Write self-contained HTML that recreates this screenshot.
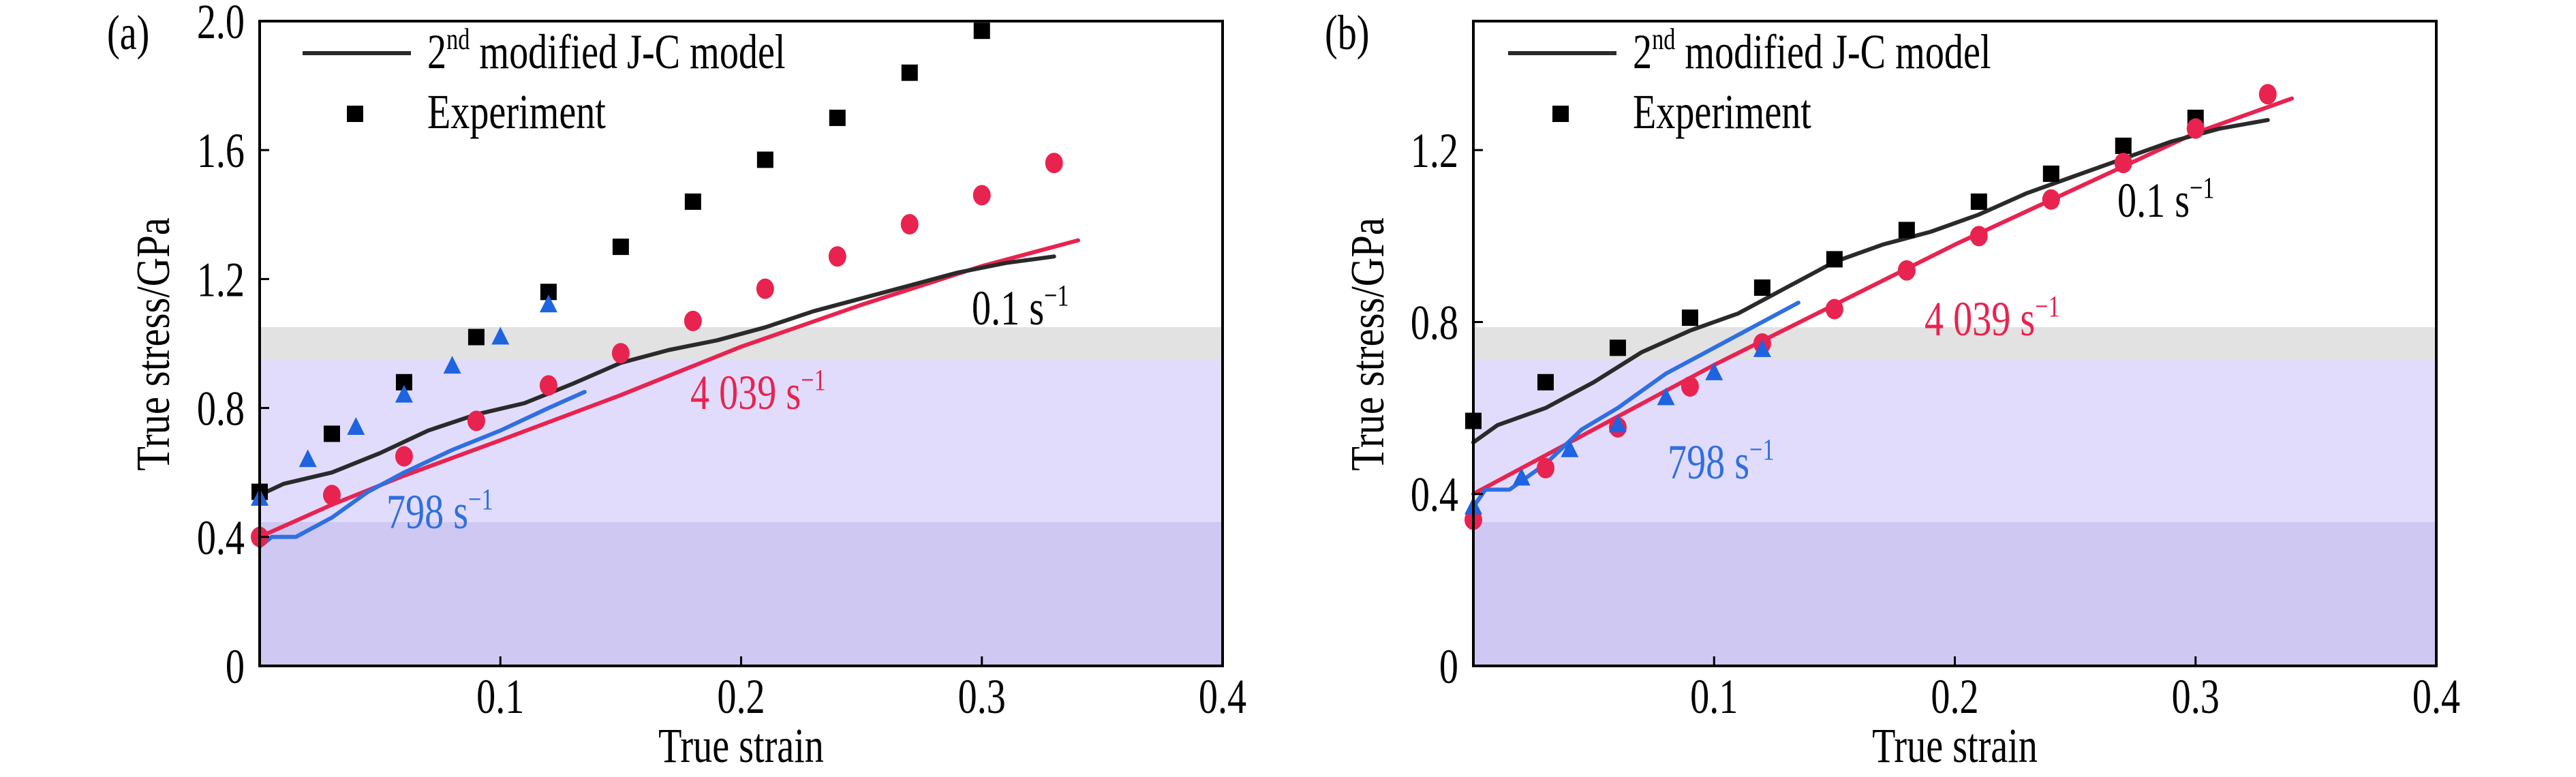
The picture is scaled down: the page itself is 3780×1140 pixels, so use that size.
<!DOCTYPE html>
<html><head><meta charset="utf-8"><style>
html,body{margin:0;padding:0;background:#fff;}
svg{display:block;font-family:"Liberation Serif",serif;}
</style></head><body>
<svg id="fig" width="3780" height="1140" viewBox="0 0 3780 1140"></svg>
<script>
// ---- data ----
const strainTicks=[0.1,0.2,0.3,0.4];
const tickLabelsX=["0.1","0.2","0.3","0.4"];
const stressTicksA=[0,0.4,0.8,1.2,1.6,2.0];
const tickLabelsYA=["0","0.4","0.8","1.2","1.6","2.0"];
const stressTicksB=[0,0.4,0.8,1.2];
const tickLabelsYB=["0","0.4","0.8","1.2"];

const expStrainSquaresA=[0,0.03,0.06,0.09,0.12,0.15,0.18,0.21,0.24,0.27,0.30];
const expStressSquaresA=[0.54,0.72,0.88,1.02,1.16,1.30,1.44,1.57,1.70,1.84,1.97];
const expStrainCirclesA=[0,0.03,0.06,0.09,0.12,0.15,0.18,0.21,0.24,0.27,0.30,0.33];
const expStressCirclesA=[0.40,0.53,0.65,0.76,0.87,0.97,1.07,1.17,1.27,1.37,1.46,1.56];
const expStrainTrianglesA=[0,0.02,0.04,0.06,0.08,0.10,0.12];
const expStressTrianglesA=[0.52,0.64,0.74,0.84,0.93,1.02,1.12];

const expStrainSquaresB=[0,0.03,0.06,0.09,0.12,0.15,0.18,0.21,0.24,0.27,0.30];
const expStressSquaresB=[0.57,0.66,0.74,0.81,0.88,0.946,1.014,1.08,1.145,1.21,1.275];
const expStrainCirclesB=[0,0.03,0.06,0.09,0.12,0.15,0.18,0.21,0.24,0.27,0.30,0.33];
const expStressCirclesB=[0.34,0.46,0.555,0.65,0.75,0.83,0.92,1.0,1.085,1.17,1.25,1.33];
const expStrainTrianglesB=[0,0.02,0.04,0.06,0.08,0.10,0.12];
const expStressTrianglesB=[0.37,0.437,0.503,0.561,0.624,0.682,0.736];

const modelStrainSlow=[0,0.01,0.03,0.05,0.07,0.09,0.11,0.13,0.15,0.17,0.19,0.21,0.23,0.25,0.27,0.29,0.31,0.33];
const modelStressSlowA=[0.53,0.565,0.60,0.66,0.73,0.78,0.815,0.875,0.94,0.98,1.01,1.05,1.10,1.14,1.18,1.22,1.25,1.27];
const modelStressSlowB=[0.52,0.56,0.60,0.66,0.73,0.78,0.82,0.88,0.94,0.98,1.01,1.05,1.10,1.14,1.18,1.22,1.25,1.27];
const modelStrainFast=[0,0.03,0.06,0.10,0.15,0.20,0.25,0.30,0.34];
const modelStressFastA=[0.40,0.50,0.59,0.70,0.84,0.99,1.12,1.24,1.32];
const modelStressFastB=[0.40,0.49,0.58,0.70,0.84,0.98,1.11,1.24,1.32];
const modelStrainMid=[0,0.005,0.015,0.03,0.045,0.06,0.08,0.10,0.12,0.135];
const modelStressMidA=[0.37,0.40,0.40,0.46,0.54,0.60,0.67,0.73,0.80,0.85];
const modelStressMidB=[0.37,0.41,0.41,0.47,0.55,0.60,0.68,0.74,0.80,0.845];

const NS="http://www.w3.org/2000/svg";
const svg=document.getElementById('fig');
const FS=72, SX=0.78;
function mk(tag,attrs,parent){const e=document.createElementNS(NS,tag);for(const k in attrs)e.setAttribute(k,attrs[k]);(parent||svg).appendChild(e);return e;}
function txt(parent,x,y,anchor,fill){
  return mk('text',{x:0,y:0,'font-size':FS,'text-anchor':anchor,fill:fill,transform:`translate(${x},${y}) scale(${SX},1)`},parent);
}
const SUP='<tspan font-size="44" dy="-28">';

function panel(p){
  const g=mk('g',{});
  
  
  const L=p.left,R=p.right,T=31,B=977;
  const sx=v=>L+(v-0)/0.4*(R-L);
  const sy=v=>B-v/p.ymax*(B-T);
  const bands=[[T,480,'#ffffff'],[480,527,'#e2e2e2'],[527,766,'#e2dcfc'],[766,B,'#cfc8f2']];
  bands.forEach(b=>{const r=mk('rect',{x:L,y:b[0],width:R-L,height:b[1]-b[0],fill:b[2]},g);
    
    });
  function line(xs,ys,color,name){
    const d=xs.map((x,i)=>(i?'L':'M')+sx(x).toFixed(1)+' '+sy(ys[i]).toFixed(1)).join(' ');
    const e=mk('path',{d:d,fill:'none',stroke:color,'stroke-width':6,'stroke-linejoin':'round','stroke-linecap':'round'},g);
    
    
  }
  line(modelStrainFast,p.fast,'#e8234f','model-line-4039');
  line(modelStrainSlow,p.slow,'#2a2a2a','model-line-0.1');
  line(modelStrainMid,p.mid,'#2f6fe0','model-line-798');
  p.sqx.forEach((x,i)=>{const e=mk('rect',{x:sx(x)-12,y:sy(p.sqy[i])-12,width:24,height:24,fill:'#000'},g);
    
    });
  p.cx.forEach((x,i)=>{const e=mk('ellipse',{cx:sx(x),cy:sy(p.cy[i]),rx:13,ry:15,fill:'#e8234f'},g);
    
    });
  p.tx.forEach((x,i)=>{const cx=sx(x),cy=sy(p.ty[i]);
    const e=mk('polygon',{points:`${cx-13},${cy+11} ${cx+13},${cy+11} ${cx},${cy-15}`,fill:'#1e63e0'},g);
    
    });
  const fr=mk('rect',{x:L,y:T,width:R-L,height:B-T,fill:'none',stroke:'#000','stroke-width':4},g);
  
  
  strainTicks.forEach((v,i)=>{
    mk('line',{x1:sx(v),x2:sx(v),y1:B,y2:B-14,stroke:'#000','stroke-width':3},g);
    const t=txt(g,sx(v),1046,'middle','#000');
    t.textContent=tickLabelsX[i];
    
    
  });
  p.yt.forEach((v,i)=>{
    mk('line',{x1:L,x2:L+14,y1:sy(v),y2:sy(v),stroke:'#000','stroke-width':3},g);
    const t=txt(g,L-22,sy(v)+25,'end','#000');
    t.textContent=p.ytl[i];
    
    
  });
  const xt=txt(g,(L+R)/2,1118,'middle','#000');
  xt.textContent='True strain';
  
  
  const yt=mk('text',{x:0,y:0,'font-size':70,'text-anchor':'middle',transform:`translate(${p.ytx},505) rotate(-90) scale(0.84,1)`},g);
  yt.textContent='True stress/GPa';
  
  
  const pl=txt(g,p.lblx,72,'start','#000');
  pl.textContent=p.lbl;
  
  
  const ll=mk('line',{x1:p.legx,x2:p.legx+159,y1:78,y2:78,stroke:'#2a2a2a','stroke-width':6},g);
  
  
  const lt=txt(g,p.legx+183,100,'start','#000');
  lt.innerHTML='2'+SUP+'nd</tspan><tspan dy="28"> modified J-C model</tspan>';
  
  
  const ls=mk('rect',{x:p.legx+65,y:155,width:24,height:24,fill:'#000'},g);
  
  
  const le=txt(g,p.legx+183,188,'start','#000');
  le.textContent='Experiment';
  
  
  p.ann.forEach(a=>{
    const t=txt(g,a[0],a[1],'start',a[3]);
    t.innerHTML=a[2]+' s'+SUP+'−1</tspan>';
    
    
  });
}
panel({id:'a',left:381,right:1794,ymax:2.0,yt:stressTicksA,ytl:tickLabelsYA,
  sqx:expStrainSquaresA,sqy:expStressSquaresA,cx:expStrainCirclesA,cy:expStressCirclesA,tx:expStrainTrianglesA,ty:expStressTrianglesA,
  slow:modelStressSlowA,fast:modelStressFastA,mid:modelStressMidA,ytx:248,lblx:157,lbl:'(a)',legx:444,
  ann:[[1426,476,'0.1','#000'],[1013,600,'4 039','#e8234f'],[567,775,'798','#2f6fe0']]});
panel({id:'b',left:2162,right:3575,ymax:1.5,yt:stressTicksB,ytl:tickLabelsYB,
  sqx:expStrainSquaresB,sqy:expStressSquaresB,cx:expStrainCirclesB,cy:expStressCirclesB,tx:expStrainTrianglesB,ty:expStressTrianglesB,
  slow:modelStressSlowB,fast:modelStressFastB,mid:modelStressMidB,ytx:2030,lblx:1944,lbl:'(b)',legx:2213,
  ann:[[3107,318,'0.1','#000'],[2824,492,'4 039','#e8234f'],[2447,702,'798','#2f6fe0']]});
</script>
</body></html>
